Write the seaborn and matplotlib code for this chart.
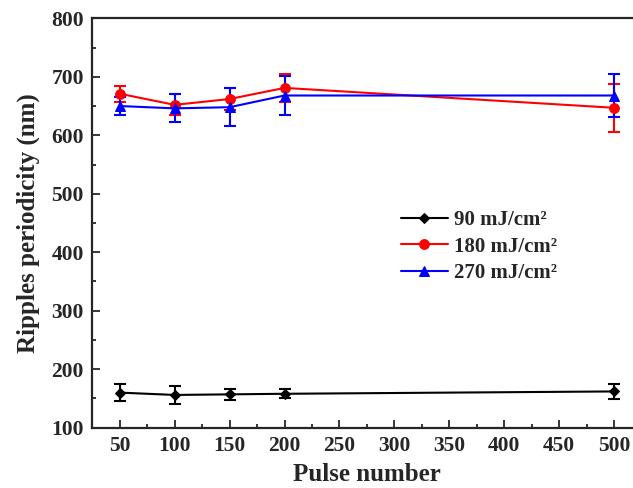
import numpy as np
import pandas as pd
import matplotlib.pyplot as plt
import seaborn as sns
from matplotlib.ticker import MultipleLocator

# Datos
pulses = [50, 100, 150, 200, 500]
labels = ['90 mJ/cm²', '180 mJ/cm²', '270 mJ/cm²']
period_90 = [160, 156, 157, 158, 162]
err_90 = [14, 15, 9, 8, 13]
period_180 = [671, 652, 662, 681, 647]
err_180 = [14, 18, 19, 24, 41]
period_270 = [650, 646, 648, 668, 668]
err_270 = [16, 24, 33, 34, 36]

colors = ['black', 'red', 'blue']
markers = ['D', 'o', '^']
msizes = [5, 7, 7]

sns.set_theme(style="ticks")
plt.rcParams['font.family'] = ['Liberation Serif', 'DejaVu Serif']
plt.rcParams['font.weight'] = 'bold'

df = pd.DataFrame({
    'pulse': pulses * 3,
    'period': period_90 + period_180 + period_270,
    'err': err_90 + err_180 + err_270,
    'serie': [lab for lab in labels for _ in pulses],
})

fig = plt.figure(figsize=(6.33, 4.88), dpi=100)
ax = fig.add_axes([92.3 / 633, (488 - 427.7) / 488, (641.5 - 92.3) / 633, (427.7 - 18.3) / 488])

for lab, c, m, ms in zip(labels, colors, markers, msizes):
    d = df[df['serie'] == lab]
    ax.errorbar(d['pulse'], d['period'], yerr=d['err'], fmt='none', ecolor=c,
                elinewidth=1.5, capsize=4, capthick=1.5, zorder=2)
    sns.lineplot(x='pulse', y='period', data=d, ax=ax, color=c, marker=m,
                 markersize=ms, markeredgecolor=c, linewidth=1.5, label=lab,
                 errorbar=None, zorder=3)

ax.set_xlim(25, 525)
ax.set_ylim(100, 800)
ax.xaxis.set_major_locator(MultipleLocator(50))
ax.xaxis.set_minor_locator(MultipleLocator(25))
ax.yaxis.set_major_locator(MultipleLocator(100))
ax.yaxis.set_minor_locator(MultipleLocator(50))
ax.tick_params(which='both', direction='in', width=1.3, labelsize=15.5, top=False, right=False)
ax.tick_params(which='major', length=6, pad=6)
ax.tick_params(which='minor', length=3)
for lbl in ax.get_xticklabels() + ax.get_yticklabels():
    lbl.set_fontweight('bold')
for s in ax.spines.values():
    s.set_linewidth(1.6)
    s.set_visible(True)

ax.set_xlabel('Pulse number', fontsize=18, fontweight='bold', labelpad=5)
ax.set_ylabel('Ripples periodicity (nm)', fontsize=18, fontweight='bold', labelpad=8)

ax.legend(loc='center left', bbox_to_anchor=(400.7 / 633, 1 - 246.6 / 488),
          bbox_transform=fig.transFigure, frameon=False, borderpad=0, borderaxespad=0,
          prop={'size': 15, 'weight': 'bold'}, handlelength=2.26,
          labelspacing=0.3, handletextpad=0.3)

plt.savefig('out.png', dpi=100)
plt.close()
